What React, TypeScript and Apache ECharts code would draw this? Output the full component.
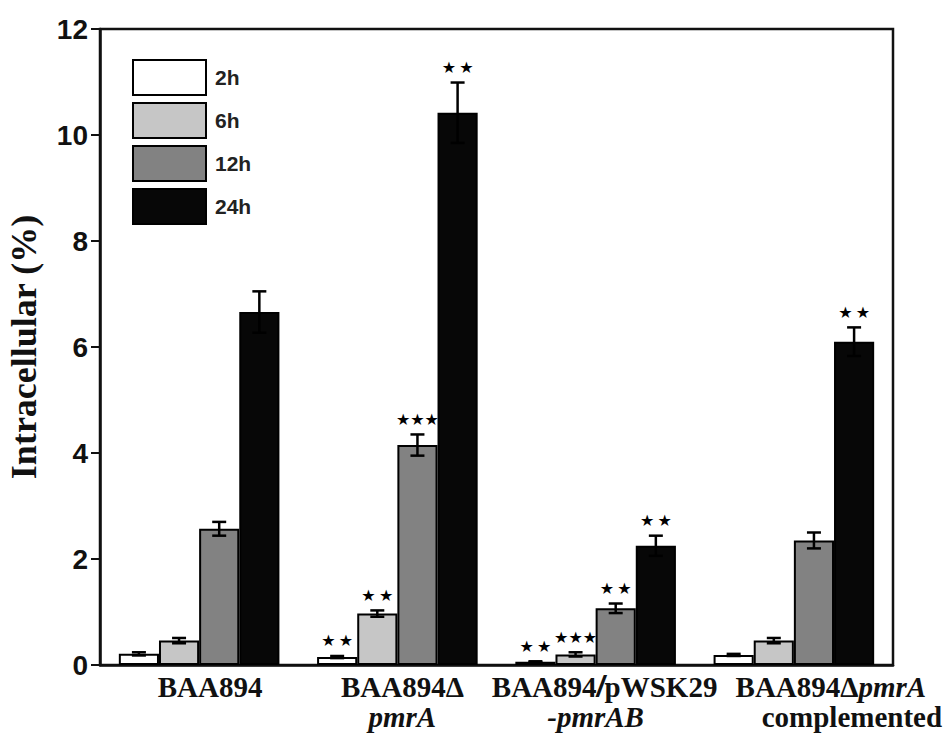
import React, { useEffect, useRef } from "react";
import * as echarts from "echarts";

const categories = ["BAA894", "BAA894ΔpmrA", "BAA894/pWSK29-pmrAB", "BAA894ΔpmrA complemented"];
const xLabels = [
  "{b1|BAA894}",
  "{b2|BAA894Δ}\n{i2|pmrA}",
  "{b3|BAA894}{s|/}{b|pWSK29}\n{i|-pmrAB}",
  "{b4|BAA894Δ}{i|pmrA}\n{c4|complemented}",
];
const seriesNames = ["2h", "6h", "12h", "24h"];
const h2 = [0.21, 0.15, 0.06, 0.19];
const h6 = [0.46, 0.97, 0.2, 0.46];
const h12 = [2.57, 4.15, 1.07, 2.35];
const h24 = [6.66, 10.42, 2.25, 6.1];
const err2 = [0.03, 0.02, 0.01, 0.02];
const err6 = [0.05, 0.06, 0.04, 0.05];
const err12 = [0.13, 0.2, 0.09, 0.15];
const err24 = [0.39, 0.57, 0.19, 0.27];
const sig2 = ["", "**", "**", ""];
const sig6 = ["", "**", "***", ""];
const sig12 = ["", "***", "**", ""];
const sig24 = ["", "**", "**", "**"];
const yTicks = { min: 0, max: 12, interval: 2 };

const colors = ["#ffffff", "#c6c6c6", "#828282", "#070707"];
const GAP = 0.19;

const allVals = [h2, h6, h12, h24];
const allErrs = [err2, err6, err12, err24];
const allSigs = [sig2, sig6, sig12, sig24];

function errSeries(si: number) {
  const vals = allVals[si];
  const errs = allErrs[si];
  const sigs = allSigs[si];
  return {
    type: "custom",
    name: "err" + si,
    z: 10,
    data: vals.map((v, k) => [k, v, errs[k]]),
    encode: { x: 0, y: 1 },
    renderItem: (params: any, api: any) => {
      const c = api.value(0);
      const v = api.value(1);
      const e = api.value(2);
      const band = api.size([1, 0])[0];
      const groupW = band * (1 - GAP);
      const bw = groupW / 4;
      const cx = api.coord([c, v])[0] - groupW / 2 + bw * (si + 0.5);
      const yTop = api.coord([c, v + e])[1];
      const yBot = api.coord([c, v - e])[1];
      const cap = 7;
      const st = { stroke: "#000", lineWidth: 2.5 };
      const children: any[] = [
        { type: "line", shape: { x1: cx, y1: yTop, x2: cx, y2: yBot }, style: st },
        { type: "line", shape: { x1: cx - cap, y1: yTop, x2: cx + cap, y2: yTop }, style: st },
        { type: "line", shape: { x1: cx - cap, y1: yBot, x2: cx + cap, y2: yBot }, style: st },
      ];
      const sig = sigs[params.dataIndex];
      if (sig) {
        const txt = sig.length === 2 ? "★\u2009★" : "★★★";
        children.push({
          type: "text",
          x: cx,
          y: yTop - 15,
          style: {
            text: txt,
            fill: "#000",
            font: "16px 'DejaVu Sans'",
            align: "center",
            verticalAlign: "middle",
          },
        });
      }
      return { type: "group", children };
    },
  };
}

const serif = "'Liberation Serif', 'Times New Roman', serif";
const sans = "'Liberation Sans', Arial, sans-serif";
const tok = (extra: any) => ({
  fontFamily: serif,
  fontWeight: "bold",
  fontSize: 29,
  lineHeight: 30,
  color: "#111",
  ...extra,
});

export default function App() {
  const ref = useRef<HTMLDivElement>(null);
  useEffect(() => {
    if (!ref.current) return;
    const chart = echarts.init(ref.current, null, { renderer: "svg" });
    const barSeries = seriesNames.map((n, i) => ({
      type: "bar",
      name: n,
      data: allVals[i],
      barGap: "0%",
      barCategoryGap: GAP * 100 + "%",
      itemStyle: { color: colors[i], borderColor: "#000", borderWidth: 2 },
      z: 2,
    }));
    chart.setOption({
      animation: false,
      backgroundColor: "#fff",
      grid: {
        left: 100,
        right: 57,
        top: 29,
        bottom: 87,
        show: true,
        borderColor: "#111",
        borderWidth: 2.5,
        backgroundColor: "transparent",
        containLabel: false,
        outerBoundsMode: "none",
      },
      legend: {
        data: seriesNames,
        orient: "vertical",
        left: 132,
        top: 59,
        padding: 0,
        itemWidth: 73,
        itemHeight: 35,
        itemGap: 6,
        icon: "rect",
        textStyle: {
          fontFamily: sans,
          fontWeight: "bold",
          fontSize: 21,
          color: "#222",
          padding: [0, 0, 0, 4],
        },
        selectedMode: false,
      },
      xAxis: {
        type: "category",
        data: categories,
        axisLine: { lineStyle: { color: "#111", width: 2.5 } },
        axisTick: { show: false },
        axisLabel: {
          interval: 0,
          margin: 7,
          formatter: (_v: string, idx: number) => xLabels[idx],
          rich: {
            b: tok({}),
            i: tok({ fontStyle: "italic" }),
            s: tok({ fontStyle: "italic", fontFamily: sans, fontWeight: "bold" }),
            b1: tok({ padding: [0, 0, 0, 22] }),
            b2: tok({ padding: [0, 0, 0, 10] }),
            i2: tok({ fontStyle: "italic", padding: [0, 0, 0, 10] }),
            b3: tok({ padding: [0, 0, 0, 18] }),
            b4: tok({ padding: [0, 0, 0, 74] }),
            c4: tok({ padding: [0, 0, 0, 116] }),
          },
        },
      },
      yAxis: {
        type: "value",
        min: yTicks.min,
        max: yTicks.max,
        interval: yTicks.interval,
        name: "Intracellular (%)",
        nameLocation: "middle",
        nameGap: 58,
        nameRotate: 90,
        nameTextStyle: { fontFamily: serif, fontWeight: "bold", fontSize: 36, color: "#111" },
        axisLine: { show: true, lineStyle: { color: "#111", width: 2.5 } },
        axisTick: { show: true, length: 9, lineStyle: { color: "#111", width: 2 } },
        axisLabel: {
          margin: 12,
          fontFamily: sans,
          fontWeight: "bold",
          fontSize: 28,
          color: "#111",
        },
        splitLine: { show: false },
      },
      series: [...barSeries, ...[0, 1, 2, 3].map(errSeries)],
    });
    return () => chart.dispose();
  }, []);
  return (
    <div
      ref={ref}
      style={{ position: "absolute", left: 0, top: 0, width: 950, height: 752 }}
    />
  );
}
